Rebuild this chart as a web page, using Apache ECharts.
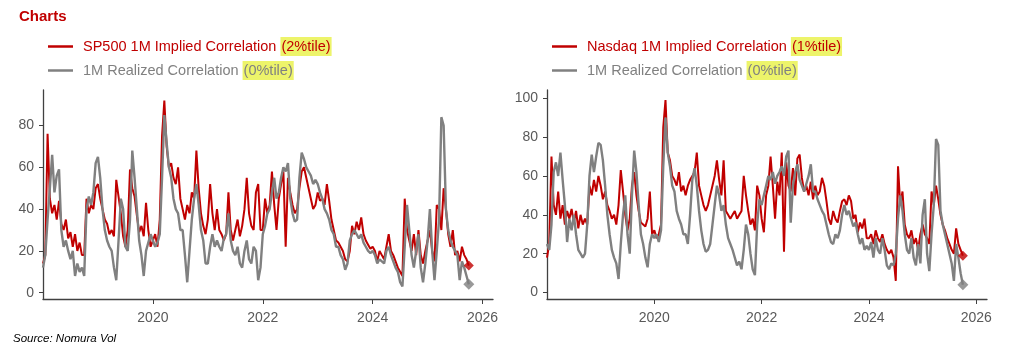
<!DOCTYPE html>
<html>
<head>
<meta charset="utf-8">
<script src="https://cdn.jsdelivr.net/npm/echarts@6/dist/echarts.min.js"></script>
<style>
  html, body { margin: 0; padding: 0; background: #fff; }
  #main { width: 1029px; height: 352px; }
</style>
</head>
<body>
<div id="main"></div>
<script>
// semi-monthly observations, first point 1 Jan 2018 (24 per year)
const startYear = 2018;
const stepsPerYear = 24;

const spxName = 'SP500 1M Implied Correlation (2%tile)';
const ndxName = 'Nasdaq 1M Implied Correlation (1%tile)';
const realName = '1M Realized Correlation (0%tile)';

const xTicks = [2020, 2022, 2024, 2026];
const yTicksLeft = [0, 20, 40, 60, 80];
const yTicksRight = [0, 20, 40, 60, 80, 100];

const spxImplied = [
  14, 18, 76, 45, 38, 42, 35, 44, 33, 30, 35, 26, 29, 22, 28, 20, 24, 18, 18, 45, 38, 42, 40, 50, // 2018
  52, 45, 40, 35, 33, 28, 30, 27, 54, 46, 38, 27, 22, 30, 59, 50, 46, 37, 29, 32, 27, 43, 30, 22, // 2019
  25, 28, 22, 35, 75, 92, 70, 60, 62, 55, 52, 60, 45, 40, 35, 42, 38, 48, 45, 68, 50, 38, 32, 28, // 2020
  35, 52, 38, 30, 40, 30, 28, 25, 28, 48, 30, 25, 30, 35, 27, 32, 40, 55, 38, 32, 30, 48, 52, 30, // 2021
  30, 45, 38, 42, 58, 42, 30, 45, 52, 58, 22, 55, 48, 42, 38, 40, 50, 58, 60, 55, 50, 45, 40, 42, // 2022
  48, 44, 45, 42, 52, 44, 35, 30, 25, 24, 22, 20, 16, 15, 20, 32, 28, 34, 30, 36, 28, 25, 23, 21, // 2023
  22, 20, 15, 20, 18, 16, 22, 28, 20, 18, 15, 12, 10, 8, 45, 30, 25, 20, 28, 18, 30, 18, 14, 20,  // 2024
  25, 30, 20, 15, 42, 40, 30, 50, 40, 28, 22, 30, 18, 20, 15, 22, 18, 16, 13                      // 2025
];
const spxRealized = [
  12, 18, 35, 50, 66, 48, 56, 59, 30, 22, 25, 20, 16, 20, 8, 14, 10, 12, 8, 40, 46, 42, 48, 62,
  65, 55, 40, 30, 25, 22, 20, 12, 6, 25, 45, 40, 22, 20, 35, 68, 55, 40, 25, 18, 8, 20, 24, 28,
  25, 22, 24, 28, 55, 85, 72, 60, 55, 45, 40, 38, 30, 30, 18, 5, 20, 35, 45, 52, 42, 30, 25, 14,
  14, 22, 28, 22, 25, 22, 20, 26, 28, 38, 25, 20, 18, 22, 14, 12, 20, 25, 16, 14, 22, 20, 6, 12,
  28, 32, 38, 40, 48, 55, 45, 48, 55, 60, 58, 62, 45, 38, 34, 35, 55, 67, 64, 60, 58, 56, 52, 54,
  52, 48, 45, 40, 38, 35, 30, 28, 22, 22, 18, 16, 11, 14, 25, 28, 30, 28, 26, 28, 24, 22, 20, 19,
  20, 18, 14, 16, 15, 14, 20, 22, 18, 15, 12, 10, 5, 3, 22, 42, 30, 18, 12, 20, 28, 12, 5, 14,
  25, 40, 20, 6, 20, 35, 84, 80, 40, 30, 25, 22, 20, 18, 6, 15, 12, 8, 4
];
const ndxImplied = [
  18, 25, 70, 45, 40, 52, 38, 45, 35, 42, 38, 43, 36, 42, 33, 40, 35, 38, 35, 55, 50, 58, 52, 60,
  55, 48, 52, 45, 42, 38, 40, 35, 45, 63, 52, 40, 32, 38, 55, 62, 50, 42, 36, 35, 34, 38, 52, 30,
  32, 28, 30, 35, 85, 99, 72, 68, 60, 58, 55, 62, 52, 55, 50, 55, 58, 60, 62, 72, 55, 50, 45, 42,
  45, 50, 55, 60, 68, 58, 50, 68, 42, 40, 38, 40, 42, 38, 40, 42, 60, 50, 42, 35, 38, 32, 55, 50,
  38, 31, 50, 55, 70, 55, 38, 57, 50, 72, 21, 67, 55, 52, 64, 50, 69, 71, 59, 52, 55, 50, 57, 48,
  55, 50, 52, 59, 55, 47, 38, 35, 42, 38, 36, 42, 47, 48, 45, 50, 47, 38, 40, 31, 36, 33, 38, 28,
  28, 30, 25, 32, 28, 26, 30, 25, 22, 20, 22, 18, 6, 65, 45, 52, 35, 30, 28, 32, 25, 28, 22, 30,
  35, 30, 28, 25, 52, 45, 55, 48, 40, 35, 32, 28, 25, 22, 20, 33, 25, 22, 19
];
const ndxRealized = [
  25, 22, 35, 62, 67, 60, 72, 58, 45, 26, 38, 32, 40, 30, 22, 20, 18, 20, 35, 60, 71, 62, 70, 77,
  76, 68, 55, 40, 30, 22, 18, 15, 7, 25, 40, 50, 30, 20, 50, 73, 62, 45, 30, 25, 18, 13, 25, 30,
  28, 30, 26, 32, 65, 90, 72, 65, 55, 52, 42, 38, 35, 30, 30, 25, 40, 58, 64, 55, 42, 32, 25, 21,
  22, 25, 35, 45, 55, 50, 42, 45, 35, 28, 25, 22, 18, 14, 16, 12, 22, 35, 30, 20, 12, 9, 35, 48,
  45, 50, 55, 60, 58, 62, 56, 60, 62, 65, 60, 70, 73, 36, 55, 62, 66, 58, 55, 52, 56, 60, 66, 52,
  52, 48, 45, 42, 40, 35, 30, 26, 25, 30, 28, 32, 40, 45, 40, 42, 38, 34, 36, 30, 25, 28, 22, 24,
  22, 26, 18, 28, 22, 20, 28, 22, 14, 12, 15, 14, 20, 38, 50, 42, 30, 22, 20, 28, 18, 14, 25, 15,
  40, 48, 20, 11, 30, 45, 79, 76, 42, 35, 30, 25, 20, 15, 6, 25, 18, 10, 4
];

const RED = '#c00000';
const GRAY = '#808080';
const FONT = '"Liberation Sans", Arial, sans-serif';

function toPoints(arr) {
  return arr.map((v, i) => [startYear + i / stepsPerYear, v]);
}
function lastPoint(arr) {
  const i = arr.length - 1;
  return [startYear + i / stepsPerYear, arr[i]];
}

function legendLabel(name) {
  const cut = name.lastIndexOf('(');
  const key = name.indexOf('Implied') >= 0 ? 'r' : 'g';
  return '{' + key + '|' + name.slice(0, cut) + '}{' + key + 'h|' + name.slice(cut) + '}';
}
const legendRich = {
  r: { color: RED, fontSize: 14.5, fontFamily: FONT, lineHeight: 22, padding: [0, 0, 0, 5] },
  g: { color: GRAY, fontSize: 14.5, fontFamily: FONT, lineHeight: 22, padding: [0, 0, 0, 5] },
  rh: { color: RED, fontSize: 14.5, fontFamily: FONT, lineHeight: 18, padding: [2, 1], backgroundColor: '#edf46a' },
  gh: { color: GRAY, fontSize: 14.5, fontFamily: FONT, lineHeight: 18, padding: [2, 1], backgroundColor: '#edf46a' }
};
function makeLegend(left, names) {
  return {
    orient: 'vertical', left: left, top: 37, padding: 0,
    itemWidth: 25, itemHeight: 2.5, itemGap: 5, icon: 'rect',
    selectedMode: false,
    data: names,
    formatter: legendLabel,
    textStyle: { rich: legendRich }
  };
}

function makeX(gridIndex, max) {
  return {
    type: 'value', gridIndex: gridIndex, min: 2018, max: max,
    axisLine: { show: true, onZero: false, lineStyle: { color: '#404040', width: 1.3 } },
    axisTick: { show: true, length: 5, customValues: xTicks, lineStyle: { color: '#404040' } },
    axisLabel: {
      customValues: xTicks, color: '#595959', fontSize: 14, fontFamily: FONT, margin: 12,
      formatter: v => String(v)
    },
    splitLine: { show: false }
  };
}
function makeY(gridIndex, min, max, ticks) {
  return {
    type: 'value', gridIndex: gridIndex, min: min, max: max,
    axisLine: { show: true, onZero: false, lineStyle: { color: '#404040', width: 1.3 } },
    axisTick: { show: true, length: 4, customValues: ticks, lineStyle: { color: '#404040' } },
    axisLabel: { customValues: ticks, color: '#595959', fontSize: 14, fontFamily: FONT, margin: 9 },
    splitLine: { show: false }
  };
}
function lineSeries(name, arr, color, width, idx) {
  return {
    name: name, type: 'line', xAxisIndex: idx, yAxisIndex: idx,
    data: toPoints(arr), showSymbol: false, symbol: 'none',
    lineStyle: { color: color, width: width }, itemStyle: { color: color }
  };
}
function endMarker(arr, color, size, idx) {
  return {
    type: 'scatter', xAxisIndex: idx, yAxisIndex: idx, z: 5, silent: true,
    data: [lastPoint(arr)], symbol: 'diamond', symbolSize: size,
    itemStyle: { color: color }
  };
}

const chart = echarts.init(document.getElementById('main'));
chart.setOption({
  animation: false,
  backgroundColor: '#fff',
  title: [
    { text: 'Charts', left: 19, top: 9, padding: 0,
      textStyle: { color: RED, fontSize: 15, fontWeight: 'bold', fontFamily: FONT } },
    { text: 'Source: Nomura Vol', left: 13, top: 333, padding: 0,
      textStyle: { color: '#000', fontSize: 11.5, fontWeight: 'normal', fontStyle: 'italic', fontFamily: FONT } }
  ],
  legend: [
    makeLegend(48, [spxName, realName]),
    makeLegend(552, [ndxName, realName])
  ],
  grid: [
    { left: 43, top: 90, width: 450, height: 209 },
    { left: 547, top: 90, width: 440, height: 209 }
  ],
  xAxis: [makeX(0, 2026.19), makeX(1, 2026.2)],
  yAxis: [makeY(0, -3, 97, yTicksLeft), makeY(1, -3.3, 104.2, yTicksRight)],
  series: [
    lineSeries(spxName, spxImplied, RED, 2, 0),
    lineSeries(realName, spxRealized, GRAY, 2.4, 0),
    lineSeries(ndxName, ndxImplied, RED, 2, 1),
    lineSeries(realName, ndxRealized, GRAY, 2.4, 1),
    endMarker(spxImplied, RED, 10, 0),
    endMarker(spxRealized, GRAY, 11, 0),
    endMarker(ndxImplied, RED, 10, 1),
    endMarker(ndxRealized, GRAY, 11, 1)
  ]
});
</script>
</body>
</html>
